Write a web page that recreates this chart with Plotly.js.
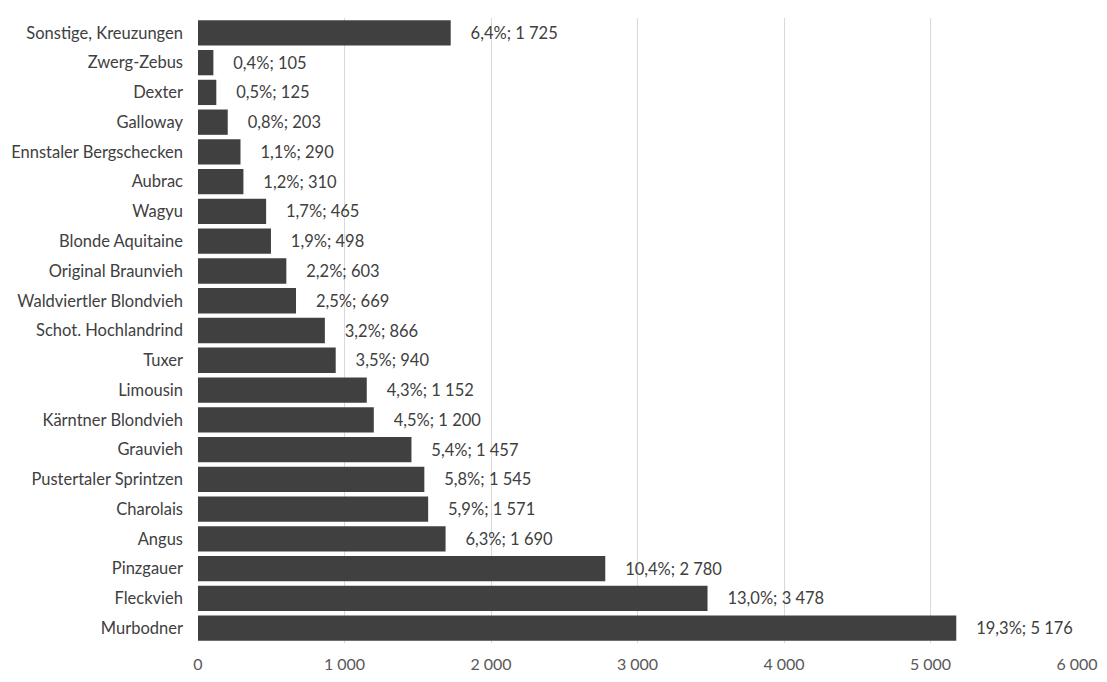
<!DOCTYPE html>
<html><head><meta charset="utf-8">
<script src="https://cdn.plot.ly/plotly-3.0.1.min.js"></script>
<style>html,body{margin:0;padding:0;background:#fff;}#chart{width:1107px;height:682px;}</style>
</head><body><div id="chart"></div>
<script>
const categories = ["Sonstige, Kreuzungen","Zwerg-Zebus","Dexter","Galloway","Ennstaler Bergschecken","Aubrac","Wagyu","Blonde Aquitaine","Original Braunvieh","Waldviertler Blondvieh","Schot. Hochlandrind","Tuxer","Limousin","Kärntner Blondvieh","Grauvieh","Pustertaler Sprintzen","Charolais","Angus","Pinzgauer","Fleckvieh","Murbodner"];
const values = [1725,105,125,203,290,310,465,498,603,669,866,940,1152,1200,1457,1545,1571,1690,2780,3478,5176];
const percents = [6.4,0.4,0.5,0.8,1.1,1.2,1.7,1.9,2.2,2.5,3.2,3.5,4.3,4.5,5.4,5.8,5.9,6.3,10.4,13.0,19.3];
const xTicks = [0,1000,2000,3000,4000,5000,6000];

const FONT = "Lato, 'Open Sans', sans-serif";
Plotly.newPlot('chart', [{
  type: 'bar', orientation: 'h',
  y: categories, x: values, customdata: percents,
  marker: {color: '#404040'},
  texttemplate: '\u00a0\u00a0\u00a0\u00a0%{customdata:.1f}%; %{x:,}',
  textposition: 'outside', cliponaxis: false,
  textfont: {family: FONT, size: 16.5, color: '#404040'},
  hoverinfo: 'none'
}], {
  width: 1107, height: 682,
  margin: {l: 198, r: 30, t: 18, b: 39},
  separators: ', ',
  paper_bgcolor: '#fff', plot_bgcolor: '#fff',
  bargap: 0.15,
  showlegend: false,
  font: {family: FONT, size: 16.5, color: '#595959'},
  xaxis: {range: [0, 6000], tickvals: xTicks, tickformat: ',', showgrid: true, gridcolor: '#d9d9d9', gridwidth: 1,
          zeroline: false, showline: false, ticks: '', ticklabelstandoff: 10,
          tickfont: {size: 16, color: '#595959'}, fixedrange: true},
  yaxis: {type: 'category', autorange: 'reversed', showgrid: false, zeroline: false, showline: false, ticks: '',
          ticklabelstandoff: 14, tickfont: {size: 16.5, color: '#404040'}, fixedrange: true}
}, {displayModeBar: false, staticPlot: true});
</script></body></html>
